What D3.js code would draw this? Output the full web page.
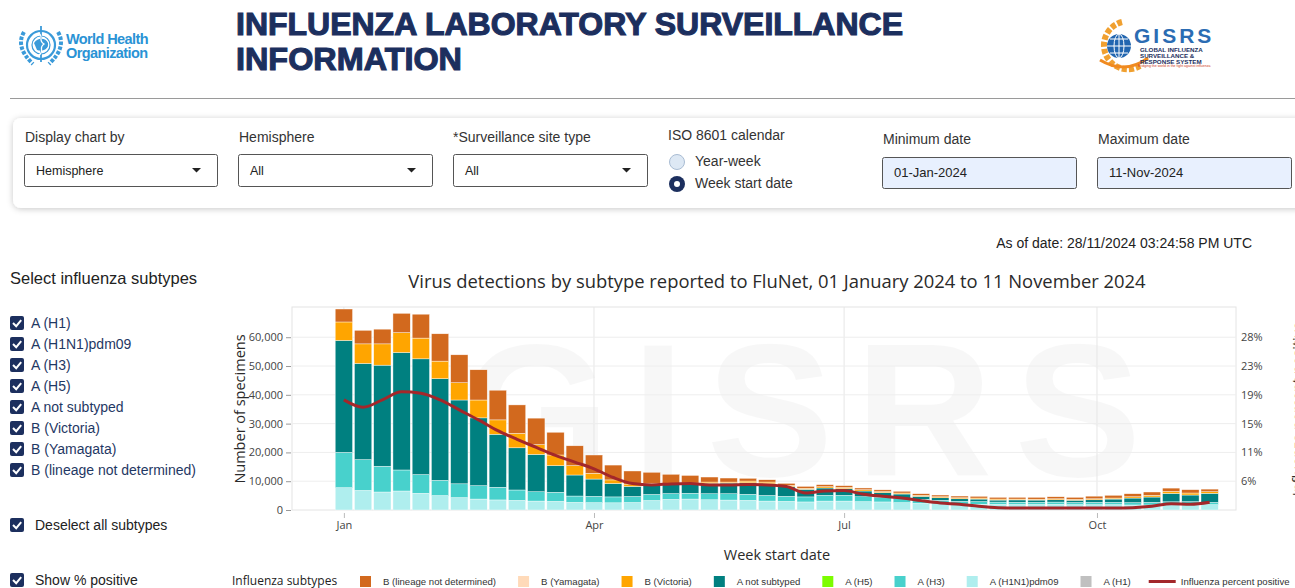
<!DOCTYPE html>
<html><head><meta charset="utf-8">
<script src="https://cdn.jsdelivr.net/npm/d3@7"></script>
<style>
body{margin:0;background:#fff;overflow:hidden}
svg{display:block}
</style></head><body>
<svg id="c" width="1295" height="588"></svg>
<script>
// ---------------- DATA ----------------
const weekDates = ["2024-01-01","2024-01-08","2024-01-15","2024-01-22","2024-01-29","2024-02-05","2024-02-12","2024-02-19","2024-02-26","2024-03-04","2024-03-11","2024-03-18","2024-03-25","2024-04-01","2024-04-08","2024-04-15","2024-04-22","2024-04-29","2024-05-06","2024-05-13","2024-05-20","2024-05-27","2024-06-03","2024-06-10","2024-06-17","2024-06-24","2024-07-01","2024-07-08","2024-07-15","2024-07-22","2024-07-29","2024-08-05","2024-08-12","2024-08-19","2024-08-26","2024-09-02","2024-09-09","2024-09-16","2024-09-23","2024-09-30","2024-10-07","2024-10-14","2024-10-21","2024-10-28","2024-11-04","2024-11-11"];
const a_h1 = [0,0,0,0,0,0,0,0,0,0,0,0,0,0,0,0,0,0,0,0,0,0,0,0,0,0,0,0,0,0,0,0,0,0,0,0,0,0,0,0,0,0,0,0,0,0];
const a_h1n1pdm09 = [7750,6800,6250,6600,5800,5000,4300,3800,3500,3350,3100,3000,2650,2550,2500,2600,3300,3700,3800,3550,3450,3350,3100,3000,2800,3100,3100,2900,2800,2550,2300,2200,1950,2000,1950,1900,1900,1950,1850,1850,1850,1750,1750,1950,1850,1850];
const a_h3 = [12250,10700,8950,7300,6500,5300,4800,4650,4400,3600,3250,3150,2200,2200,2050,2100,2100,2000,2000,2100,2200,2100,1950,1750,1750,2000,2000,1700,1500,1400,1400,1150,1050,900,800,800,750,800,750,800,800,800,900,900,1050,800];
const a_h5 = [0,0,0,0,0,0,0,0,0,0,0,0,0,0,0,0,0,0,0,0,0,0,0,0,0,0,0,0,0,0,0,0,0,0,0,0,0,0,0,0,0,0,0,0,0,0];
const a_not_subtyped = [38900,33400,35100,40800,40200,35300,29100,23550,18400,14650,12950,9250,7300,6000,4650,3500,3200,3100,3100,3600,3700,4000,4050,3350,2650,2550,2300,2000,1750,1600,1050,900,900,900,700,800,800,800,800,900,1150,1600,1850,2900,2300,3150];
const b_victoria = [6400,6800,7400,6900,7200,6100,6000,6200,5000,5000,3400,3700,3250,2000,1250,800,700,450,450,450,350,600,600,450,350,450,450,450,350,350,350,350,350,350,350,300,300,350,300,350,350,450,600,700,700,550];
const b_yamagata = [0,0,0,0,0,0,0,0,0,0,0,0,0,0,0,0,0,0,0,0,0,0,0,0,0,0,0,0,0,0,0,0,0,0,0,0,0,0,0,0,0,0,0,0,0,0];
const b_lineage_nd = [4500,4700,5100,6700,8300,9500,9700,10500,10300,9900,9200,7900,6900,6350,5150,4550,3800,3150,2650,1750,1400,950,800,700,650,700,600,600,600,600,550,600,600,600,600,600,650,700,700,900,950,1050,1150,1150,1150,900];
const pct_positive = [18.4,17.3,18.4,19.6,19.4,18.4,16.9,15.4,13.8,12.5,11.3,10.1,9.1,8.1,6.8,5.9,5.7,5.85,5.9,5.7,5.7,5.75,5.7,5.45,4.5,4.8,4.85,4.3,4.0,3.75,3.35,3.0,2.8,2.5,2.3,2.25,2.25,2.25,2.25,2.25,2.25,2.3,2.5,2.9,2.8,3.1];
const countTicks = [0,10000,20000,30000,40000,50000,60000];
const pctTicks = [6.25,10.55,14.85,19.15,23.45,27.75];
const seriesNames = ["A (H1)","A (H1N1)pdm09","A (H3)","A (H5)","A not subtyped","B (Victoria)","B (Yamagata)","B (lineage not determined)"];
const seriesColors = ["#c0c0c0","#afeeee","#48d1cc","#7cfc00","#008080","#ffa500","#ffdab9","#d2691e"];
const legendOrder = ["B (lineage not determined)","B (Yamagata)","B (Victoria)","A not subtyped","A (H5)","A (H3)","A (H1N1)pdm09","A (H1)"];
const subtypeList = ["A (H1)","A (H1N1)pdm09","A (H3)","A (H5)","A not subtyped","B (Victoria)","B (Yamagata)","B (lineage not determined)"];

// ---------------- SETUP ----------------
const svg = d3.select("#c");
const F = "'Liberation Sans', Arial, sans-serif";
const CF = "'Open Sans', sans-serif";
const NAVY = "#1c2f5e";
const defs = svg.append("defs");
const flt = defs.append("filter").attr("id","sh").attr("x","-5%").attr("y","-30%").attr("width","110%").attr("height","170%");
flt.append("feDropShadow").attr("dx",0).attr("dy",1).attr("stdDeviation",3).attr("flood-color","#000").attr("flood-opacity",0.22);

// ---------------- HEADER ----------------
// WHO logo
const WB = "#3a9ad9";
const who = svg.append("g").attr("transform","translate(41,45)");
who.append("circle").attr("r",14).attr("fill","none").attr("stroke",WB).attr("stroke-width",2.2);
who.append("circle").attr("r",9).attr("fill","none").attr("stroke",WB).attr("stroke-width",1.2);
who.append("path").attr("d","M-7,-2 C-3,-8 5,-7 7,-2 C8,4 2,7 -4,5 Z").attr("fill",WB);
who.append("line").attr("x1",0).attr("y1",-19).attr("x2",0).attr("y2",17).attr("stroke",WB).attr("stroke-width",1.8);
who.append("path").attr("d","M-3,-12 C4,-9 -4,-5 3,-1 C-3,3 4,6 -2,10").attr("fill","none").attr("stroke","#fff").attr("stroke-width",1.3);
[-1,1].forEach(s=>{
  who.append("path").attr("d",`M${s*17},-13 Q${s*26},2 ${s*8},19`).attr("fill","none").attr("stroke",WB).attr("stroke-width",4).attr("stroke-dasharray","3.5,1.5");
});
svg.append("text").attr("x",66).attr("y",44).attr("font-family",F).attr("font-size",14.5).attr("font-weight","bold").attr("fill","#2a93d5").attr("letter-spacing",-0.6).text("World Health");
svg.append("text").attr("x",66).attr("y",58).attr("font-family",F).attr("font-size",14.5).attr("font-weight","bold").attr("fill","#2a93d5").attr("letter-spacing",-0.6).text("Organization");

// Title
svg.append("text").attr("x",236).attr("y",35).attr("font-family",F).attr("font-size",31).attr("font-weight","bold")
  .attr("fill",NAVY).attr("stroke",NAVY).attr("stroke-width",1.1).attr("textLength",667).attr("lengthAdjust","spacingAndGlyphs").text("INFLUENZA LABORATORY SURVEILLANCE");
svg.append("text").attr("x",236).attr("y",70).attr("font-family",F).attr("font-size",31).attr("font-weight","bold")
  .attr("fill",NAVY).attr("stroke",NAVY).attr("stroke-width",1.1).attr("textLength",226).attr("lengthAdjust","spacingAndGlyphs").text("INFORMATION");

// GISRS logo
const gl = svg.append("g");
gl.append("path").attr("d","M1122,22 A24,24 0 1,0 1140,66").attr("fill","none").attr("stroke","#f0a030").attr("stroke-width",6).attr("stroke-dasharray","5,2");
gl.append("circle").attr("cx",1119).attr("cy",46).attr("r",12).attr("fill","#2266b0");
gl.append("path").attr("d","M1107,46 H1131 M1119,34 V58 M1110,39 H1128 M1110,53 H1128").attr("stroke","#fff").attr("stroke-width",1);
gl.append("ellipse").attr("cx",1119).attr("cy",46).attr("rx",5).attr("ry",12).attr("fill","none").attr("stroke","#fff").attr("stroke-width",1);
gl.append("path").attr("d","M1100,60 Q1125,75 1148,58").attr("fill","none").attr("stroke","#f08a20").attr("stroke-width",3);
svg.append("text").attr("x",1134).attr("y",43).attr("font-family",F).attr("font-size",21).attr("font-weight","bold").attr("fill","#2b6cb3").attr("letter-spacing",3).text("GISRS");
["GLOBAL INFLUENZA","SURVEILLANCE &","RESPONSE SYSTEM"].forEach((t,i)=>{
  svg.append("text").attr("x",1140).attr("y",52+i*6).attr("font-family",F).attr("font-size",6.2).attr("font-weight","bold").attr("fill",NAVY).text(t);
});
svg.append("text").attr("x",1138).attr("y",67).attr("font-family",F).attr("font-size",3.5).attr("fill","#d04020").text("Bridging the world in the fight against influenza");

svg.append("line").attr("x1",10).attr("x2",1295).attr("y1",98.5).attr("y2",98.5).attr("stroke","#9a9a9a").attr("stroke-width",1);

// ---------------- FILTER CARD ----------------
svg.append("rect").attr("x",13).attr("y",118).attr("width",1300).attr("height",90).attr("rx",8).attr("fill","#fff").attr("filter","url(#sh)");
function label(x,y,t,size){svg.append("text").attr("x",x).attr("y",y).attr("font-family",F).attr("font-size",size||14).attr("fill","#333").text(t);}
function selectBox(x,w,t){
  svg.append("rect").attr("x",x+0.5).attr("y",154.5).attr("width",w).attr("height",32).attr("rx",2).attr("fill","#fff").attr("stroke","#555");
  svg.append("text").attr("x",x+12).attr("y",175).attr("font-family",F).attr("font-size",12.5).attr("fill","#222").text(t);
  svg.append("path").attr("d",`M${x+w-25},168 h9 l-4.5,4.5 Z`).attr("fill","#222");
}
label(25,142,"Display chart by"); selectBox(24,193,"Hemisphere");
label(239,142,"Hemisphere"); selectBox(238,194,"All");
label(453,142,"*Surveillance site type"); selectBox(453,194,"All");
label(668,140,"ISO 8601 calendar");
svg.append("circle").attr("cx",677).attr("cy",162).attr("r",7.5).attr("fill","#dde8f4").attr("stroke","#a9bcd3");
svg.append("circle").attr("cx",677).attr("cy",184).attr("r",8).attr("fill",NAVY);
svg.append("circle").attr("cx",677).attr("cy",184).attr("r",3).attr("fill","#fff");
label(695,166,"Year-week"); label(695,188,"Week start date");
function dateBox(x,lab,t){
  label(x+1,144,lab);
  svg.append("rect").attr("x",x+0.5).attr("y",157.5).attr("width",194).attr("height",31).attr("rx",2).attr("fill","#e8f0fe").attr("stroke","#555");
  svg.append("text").attr("x",x+12).attr("y",177).attr("font-family",F).attr("font-size",13).attr("fill","#222").text(t);
}
dateBox(882,"Minimum date","01-Jan-2024");
dateBox(1097,"Maximum date","11-Nov-2024");

svg.append("text").attr("x",1252).attr("y",248).attr("text-anchor","end").attr("font-family",F).attr("font-size",14).attr("fill","#222").text("As of date: 28/11/2024 03:24:58 PM UTC");

// ---------------- LEFT PANEL ----------------
svg.append("text").attr("x",10).attr("y",284).attr("font-family",F).attr("font-size",16.5).attr("fill","#222").text("Select influenza subtypes");
function checkbox(x,cy){
  svg.append("rect").attr("x",x).attr("y",cy-7).attr("width",14).attr("height",14).attr("rx",2).attr("fill",NAVY);
  svg.append("path").attr("d",`M${x+3},${cy} l3.2,3.2 l5,-6`).attr("fill","none").attr("stroke","#fff").attr("stroke-width",2);
}
subtypeList.forEach((s,i)=>{
  const cy = 323 + i*21;
  checkbox(10,cy);
  svg.append("text").attr("x",31).attr("y",cy+5).attr("font-family",F).attr("font-size",14).attr("fill","#1f3864").text(s);
});
checkbox(10,525);
svg.append("text").attr("x",35).attr("y",530).attr("font-family",F).attr("font-size",14).attr("fill","#222").text("Deselect all subtypes");
checkbox(10,580);
svg.append("text").attr("x",35).attr("y",585).attr("font-family",F).attr("font-size",14).attr("fill","#222").text("Show % positive");

// ---------------- CHART ----------------
const M = {l:292, r:1236, t:307, b:510};
const parse = d3.utcParse("%Y-%m-%d");
const dates = weekDates.map(parse);
const x = d3.scaleUtc().domain([new Date(Date.UTC(2023,11,13,3)), new Date(Date.UTC(2024,10,20,14))]).range([M.l, M.r]);
const y = d3.scaleLinear().domain([0,70500]).range([M.b, M.t]);
const y2 = d3.scaleLinear().domain([1.95, 1.95+4.3*7.05]).range([M.b, M.t]);

svg.append("text").attr("x",777).attr("y",288).attr("text-anchor","middle").attr("font-family",CF).attr("font-size",18.4).attr("fill","#2a2a2a")
  .text("Virus detections by subtype reported to FluNet, 01 January 2024 to 11 November 2024");

const plot = svg.append("g");
plot.append("rect").attr("x",M.l).attr("y",M.t).attr("width",M.r-M.l).attr("height",M.b-M.t).attr("fill","#fff").attr("stroke","#e4e4e4");
// watermark
plot.append("text").attr("x",462).attr("y",476).attr("font-family",F).attr("font-weight","bold").attr("font-size",190).attr("letter-spacing",22)
  .attr("fill","#000").attr("fill-opacity",0.03).text("GISRS");
// grid
const monthTicks = d3.utcMonth.every(3).range(new Date(Date.UTC(2024,0,1)), new Date(Date.UTC(2024,10,2)));
plot.selectAll(".vg").data(monthTicks).join("line").attr("x1",d=>x(d)).attr("x2",d=>x(d)).attr("y1",M.t).attr("y2",M.b).attr("stroke","#e6e6e6");
plot.selectAll(".hg").data(countTicks.slice(1)).join("line").attr("x1",M.l).attr("x2",M.r).attr("y1",d=>y(d)).attr("y2",d=>y(d)).attr("stroke","#eeeeee");

// stacked bars
const rows = dates.map((d,i)=>({date:d,
  "A (H1)":a_h1[i],"A (H1N1)pdm09":a_h1n1pdm09[i],"A (H3)":a_h3[i],"A (H5)":a_h5[i],
  "A not subtyped":a_not_subtyped[i],"B (Victoria)":b_victoria[i],"B (Yamagata)":b_yamagata[i],
  "B (lineage not determined)":b_lineage_nd[i]}));
const stack = d3.stack().keys(seriesNames)(rows);
const color = d3.scaleOrdinal().domain(seriesNames).range(seriesColors);
const bw = (x(dates[1]) - x(dates[0])) * 0.9;
plot.selectAll(".layer").data(stack).join("g").attr("fill",d=>color(d.key))
  .selectAll("rect").data(d=>d.filter(s=>s[1]-s[0]>0)).join("rect")
  .attr("x",d=>x(d.data.date)-bw/2).attr("width",bw)
  .attr("y",d=>y(d[1])).attr("height",d=>y(d[0])-y(d[1]))
  .attr("stroke","#fff").attr("stroke-width",0.5).attr("stroke-opacity",0.8);

// percent positive line
const line = d3.line().x((d,i)=>x(dates[i])).y(d=>y2(d)).curve(d3.curveMonotoneX);
plot.append("path").datum(pct_positive).attr("d",line).attr("fill","none").attr("stroke","#a3272a").attr("stroke-width",3);

// axes
const yAx = svg.append("g").attr("transform",`translate(${M.l-1},0)`)
  .call(d3.axisLeft(y).tickValues(countTicks).tickFormat(d3.format(",")).tickSize(5).tickPadding(3));
yAx.select(".domain").remove();
yAx.selectAll("text").attr("font-family",CF).attr("font-size",11).attr("fill","#444");
yAx.selectAll("line").attr("stroke","#999");

const xAx = svg.append("g").attr("transform",`translate(0,${M.b+3})`)
  .call(d3.axisBottom(x).tickValues(monthTicks).tickFormat(d3.utcFormat("%b")).tickSize(5).tickPadding(3));
xAx.select(".domain").remove();
xAx.selectAll("text").attr("font-family",CF).attr("font-size",11).attr("fill","#444");
xAx.selectAll("line").attr("stroke","#bbb");

const y2Ax = svg.append("g").attr("transform",`translate(${M.r+2},0)`)
  .call(d3.axisRight(y2).tickValues(pctTicks).tickFormat(d=>d3.format(".0f")(d)+"%").tickSize(0).tickPadding(3));
y2Ax.select(".domain").remove();
y2Ax.selectAll("text").attr("font-family",CF).attr("font-size",11).attr("fill","#444");

svg.append("text").attr("transform","translate(245,409) rotate(-90)").attr("text-anchor","middle").attr("font-family",CF).attr("font-size",14.5).attr("fill","#2a2a2a").text("Number of specimens");
svg.append("text").attr("transform","translate(1303,409) rotate(-90)").attr("text-anchor","middle").attr("font-family",CF).attr("font-size",14.5).attr("fill","#2a2a2a").text("Influenza percent positive");
svg.append("text").attr("x",777).attr("y",560).attr("text-anchor","middle").attr("font-family",CF).attr("font-size",14.5).attr("fill","#2a2a2a").text("Week start date");

// legend
svg.append("text").attr("x",232).attr("y",585).attr("font-family",CF).attr("font-size",12).attr("fill","#222").text("Influenza subtypes");
let lx = 360;
legendOrder.forEach(name=>{
  svg.append("rect").attr("x",lx).attr("y",576).attr("width",11).attr("height",11).attr("fill",color(name));
  const t = svg.append("text").attr("x",lx+23).attr("y",585).attr("font-family",F).attr("font-size",9.6).attr("fill","#333").text(name);
  lx += 23 + t.node().getComputedTextLength() + 22;
});
svg.append("line").attr("x1",lx-4).attr("x2",lx+23).attr("y1",581.5).attr("y2",581.5).attr("stroke","#a3272a").attr("stroke-width",3);
svg.append("text").attr("x",lx+28).attr("y",585).attr("font-family",F).attr("font-size",9.6).attr("fill","#333").text("Influenza percent positive");
</script>
</body></html>
